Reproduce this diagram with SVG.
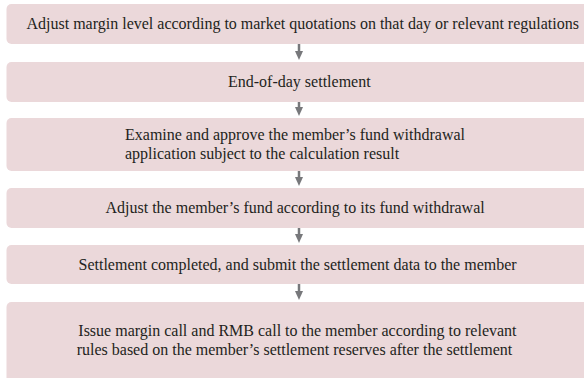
<svg xmlns="http://www.w3.org/2000/svg" width="584" height="378" viewBox="0 0 584 378">
  <style>
    .box { fill: #ebd8da; }
    .lbl { font-family: "Liberation Serif", "Times New Roman", serif; font-size: 16px; fill: #231f20; }
    .arr { stroke: #77787b; stroke-width: 2.5; fill: none; }
    .head { fill: #77787b; }
  </style>
  <rect width="584" height="378" fill="#ffffff"/>
  <g id="n1">
    <rect class="box" x="6.5" y="4" width="600" height="40" rx="5"/>
    <text class="lbl" x="26.5" y="29">Adjust margin level according to market quotations on that day or relevant regulations</text>
  </g>
  <g id="n2">
    <rect class="box" x="6.5" y="62" width="600" height="40" rx="5"/>
    <text class="lbl" x="228" y="87">End-of-day settlement</text>
  </g>
  <g id="n3">
    <rect class="box" x="6.5" y="118" width="600" height="53" rx="5"/>
    <text class="lbl" x="125" y="140">Examine and approve the member’s fund withdrawal</text>
    <text class="lbl" x="125" y="159">application subject to the calculation result</text>
  </g>
  <g id="n4">
    <rect class="box" x="6.5" y="188" width="600" height="40" rx="5"/>
    <text class="lbl" x="105.5" y="213">Adjust the member’s fund according to its fund withdrawal</text>
  </g>
  <g id="n5">
    <rect class="box" x="6.5" y="245" width="600" height="39" rx="5"/>
    <text class="lbl" x="78.5" y="270">Settlement completed, and submit the settlement data to the member</text>
  </g>
  <g id="n6">
    <rect class="box" x="6.5" y="302" width="600" height="82" rx="5"/>
    <text class="lbl" x="78.3" y="335.5">Issue margin call and RMB call to the member according to relevant</text>
    <text class="lbl" x="76.7" y="354.5">rules based on the member’s settlement reserves after the settlement</text>
  </g>
  <g id="connectors">
    <line class="arr" x1="299" y1="44" x2="299" y2="52"/>
    <polygon class="head" points="295,51 303,51 299,60"/>
    <line class="arr" x1="299" y1="102" x2="299" y2="108"/>
    <polygon class="head" points="295,107 303,107 299,116"/>
    <line class="arr" x1="299" y1="171" x2="299" y2="178"/>
    <polygon class="head" points="295,177 303,177 299,186"/>
    <line class="arr" x1="299" y1="228" x2="299" y2="235"/>
    <polygon class="head" points="295,234 303,234 299,243"/>
    <line class="arr" x1="299" y1="284" x2="299" y2="292"/>
    <polygon class="head" points="295,291 303,291 299,300"/>
  </g>
</svg>
